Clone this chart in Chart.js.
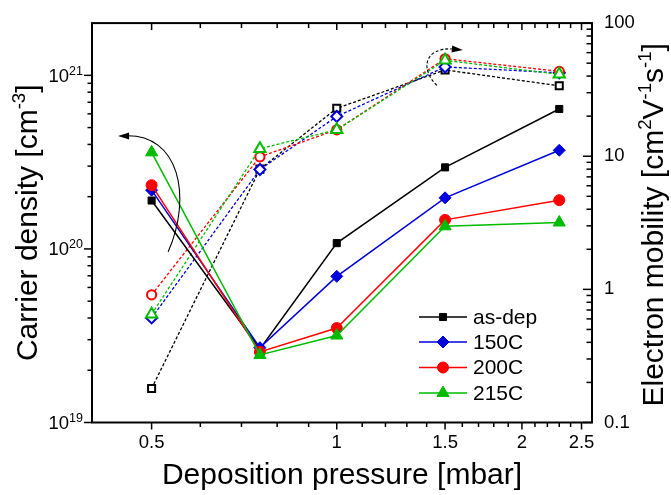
<!DOCTYPE html>
<html>
<head>
<meta charset="utf-8">
<script src="https://cdn.jsdelivr.net/npm/chart.js@4.4.1/dist/chart.umd.min.js"></script>
<style>
html,body{margin:0;padding:0;background:#fff;}
#wrap{width:671px;height:495px;}
</style>
</head>
<body>
<div id="wrap"><canvas id="c" width="671" height="495"></canvas></div>
<script>
// ---- data ----
const pressure = [0.5, 0.75, 1.0, 1.5, 2.3];
const carrierAsDep = [1.9e20, 2.65e19, 1.08e20, 2.95e20, 6.4e20];
const carrier150C  = [2.18e20, 2.7e19, 6.95e19, 1.97e20, 3.7e20];
const carrier200C  = [2.33e20, 2.55e19, 3.5e19, 1.47e20, 1.91e20];
const carrier215C  = [3.6e20, 2.45e19, 3.17e19, 1.35e20, 1.42e20];
const mobilityAsDep = [0.18, 8.0, 22.9, 44.5, 33.8];
const mobility150C  = [0.61, 7.95, 19.9, 46.9, 42.3];
const mobility200C  = [0.91, 9.9, 15.8, 54, 43.4];
const mobility215C  = [0.65, 11.4, 15.8, 52.5, 41.2];
const seriesNames = ['as-dep', '150C', '200C', '215C'];

// ---- ticks ----
const xLabelTicks = [0.5, 1, 1.5, 2, 2.5];
const xAllTicks = [0.5,0.6,0.7,0.8,0.9,1.0,1.1,1.2,1.3,1.4,1.5,1.6,1.7,1.8,1.9,2.0,2.1,2.2,2.3,2.4,2.5];
const leftLabelTicks = [1e19, 1e20, 1e21];
const leftTickBase = ['10', '10', '10'];
const leftTickExp = ['19', '20', '21'];
const leftMinorTicks = [2e19,3e19,4e19,5e19,6e19,7e19,8e19,9e19,2e20,3e20,4e20,5e20,6e20,7e20,8e20,9e20];
const rightLabelTicks = [0.1, 1, 10, 100];
const rightMinorTicks = [0.2,0.3,0.4,0.5,0.6,0.7,0.8,0.9,2,3,4,5,6,7,8,9,20,30,40,50,60,70,80,90];

const FONT = '"Liberation Sans", Arial, sans-serif';
const TICK_SIZE = 18.5;
const TITLE_SIZE = 30;
const colors = ['#000000', '#0000dd', '#ff0000', '#00bb00'];
const styles = ['rect', 'rectRot', 'circle', 'triangle'];
const filledR = [5, 6, 5.5, 7];
const openR = [5, 5.5, 4.6, 6.5];

function mk(arr){ return pressure.map((x,i)=>({x:x, y:arr[i]})); }

const carrierSets = [carrierAsDep, carrier150C, carrier200C, carrier215C];
const mobilitySets = [mobilityAsDep, mobility150C, mobility200C, mobility215C];

const datasets = [];
mobilitySets.forEach((arr,i)=>{
  datasets.push({
    label: seriesNames[i] + ' mobility',
    data: mk(arr), yAxisID:'y2',
    borderColor: colors[i], borderWidth: 1.3, borderDash:[3,2],
    pointStyle: styles[i], pointRadius: openR[i], pointBorderWidth: 2,
    pointBorderColor: colors[i], pointBackgroundColor: '#ffffff',
    order: 8 - i, tension: 0
  });
});
carrierSets.forEach((arr,i)=>{
  datasets.push({
    label: seriesNames[i],
    data: mk(arr), yAxisID:'y',
    borderColor: colors[i], borderWidth: 1.5,
    pointStyle: styles[i], pointRadius: filledR[i], pointBorderWidth: 1,
    pointBorderColor: colors[i], pointBackgroundColor: colors[i],
    order: 4 - i, tension: 0
  });
});

function drawRich(ctx, parts, x, y, rot, size){
  ctx.save();
  ctx.translate(x, y); ctx.rotate(rot);
  ctx.textBaseline = 'alphabetic'; ctx.textAlign = 'left'; ctx.fillStyle = '#000';
  let total = 0;
  parts.forEach(p=>{ ctx.font = (p.sup ? size*0.62 : size) + 'px ' + FONT; p.w = ctx.measureText(p.t).width; total += p.w; });
  let cx = -total/2;
  parts.forEach(p=>{ ctx.font = (p.sup ? size*0.62 : size) + 'px ' + FONT; ctx.fillText(p.t, cx, p.sup ? -size*0.4 : 0); cx += p.w; });
  ctx.restore();
}

// annotation arrows in data coordinates (x: mbar, y: carrier density)
const solidArrow = {start:[0.532,9.63e19], c1:[0.582,1.98e20], c2:[0.556,4.66e20], end:[0.451,4.48e20], tip:[0.441,4.48e20]};
const dashedArrow = {start:[1.455,8.75e20], c1:[1.364,1.09e21], c2:[1.39,1.44e21], end:[1.538,1.42e21], tip:[1.603,1.40e21]};

const decor = {
  id: 'decor',
  afterDatasetsDraw(chart){
    const ctx = chart.ctx, sx = chart.scales.x, sy = chart.scales.y;
    const P = p => [sx.getPixelForValue(p[0]), sy.getPixelForValue(p[1])];
    function arrow(a, dashed){
      const s=P(a.start), c1=P(a.c1), c2=P(a.c2), e=P(a.end), t=P(a.tip);
      ctx.save();
      ctx.strokeStyle = '#000'; ctx.lineWidth = 1.1;
      ctx.setLineDash(dashed ? [3,2] : []);
      ctx.beginPath(); ctx.moveTo(s[0], s[1]); ctx.bezierCurveTo(c1[0],c1[1],c2[0],c2[1],e[0],e[1]); ctx.stroke();
      ctx.setLineDash([]);
      const ang = Math.atan2(t[1]-e[1], t[0]-e[0]);
      const L = 11, W = 3.5;
      ctx.fillStyle = '#000';
      ctx.beginPath();
      ctx.moveTo(t[0], t[1]);
      ctx.lineTo(t[0] - L*Math.cos(ang) + W*Math.sin(ang), t[1] - L*Math.sin(ang) - W*Math.cos(ang));
      ctx.lineTo(t[0] - L*Math.cos(ang) - W*Math.sin(ang), t[1] - L*Math.sin(ang) + W*Math.cos(ang));
      ctx.closePath(); ctx.fill();
      ctx.restore();
    }
    arrow(solidArrow, false);
    arrow(dashedArrow, true);
  },
  afterDraw(chart){
    const ctx = chart.ctx, a = chart.chartArea, s = chart.scales;
    ctx.save();
    ctx.strokeStyle = '#000';
    ctx.lineWidth = 1.5;
    function ln(x1,y1,x2,y2){ ctx.beginPath(); ctx.moveTo(x1,y1); ctx.lineTo(x2,y2); ctx.stroke(); }
    xAllTicks.forEach(v=>{
      const px = s.x.getPixelForValue(v);
      const major = xLabelTicks.indexOf(v) >= 0;
      ln(px, a.bottom, px, a.bottom + (major ? 7 : 4.5));
      ln(px, a.top, px, a.top + (major ? 7 : 5));
    });
    leftLabelTicks.forEach(v=>{ const py = s.y.getPixelForValue(v); ln(a.left - 8, py, a.left, py); });
    leftMinorTicks.forEach(v=>{ const py = s.y.getPixelForValue(v); ln(a.left - 4.5, py, a.left, py); });
    rightLabelTicks.forEach(v=>{ const py = s.y2.getPixelForValue(v); ln(a.right - 9, py, a.right, py); });
    rightMinorTicks.forEach(v=>{ const py = s.y2.getPixelForValue(v); ln(a.right - 5.5, py, a.right, py); });
    ctx.lineWidth = 2;
    ctx.strokeRect(a.left, a.top, a.right - a.left, a.bottom - a.top);

    // left tick labels with superscript exponents
    ctx.fillStyle = '#000'; ctx.textBaseline = 'alphabetic'; ctx.textAlign = 'left';
    leftLabelTicks.forEach((v,i)=>{
      const py = s.y.getPixelForValue(v);
      ctx.font = '12.5px ' + FONT; const w2 = ctx.measureText(leftTickExp[i]).width;
      ctx.font = TICK_SIZE + 'px ' + FONT; const w1 = ctx.measureText(leftTickBase[i]).width;
      const xr = a.left - 9;
      ctx.fillText(leftTickBase[i], xr - w2 - w1, py + 6.5);
      ctx.font = '12.5px ' + FONT;
      ctx.fillText(leftTickExp[i], xr - w2, py - 0.5);
    });
    ctx.restore();

    // legend
    const lx1 = 419, lx2 = 467, lm = 443, tx = 473;
    const rows = [317, 342, 367.5, 393];
    for (let i = 0; i < 4; i++){
      const ds = chart.data.datasets[4 + i];
      const y = rows[i];
      ctx.save();
      ctx.strokeStyle = ds.borderColor; ctx.lineWidth = 1.5;
      ctx.beginPath(); ctx.moveTo(lx1, y); ctx.lineTo(lx2, y); ctx.stroke();
      ctx.fillStyle = ds.pointBackgroundColor; ctx.strokeStyle = ds.pointBorderColor; ctx.lineWidth = 1;
      Chart.helpers.drawPoint(ctx, {pointStyle: ds.pointStyle, radius: ds.pointRadius, borderWidth: 1, rotation: 0}, lm, y);
      ctx.fillStyle = '#000'; ctx.font = '21px ' + FONT; ctx.textBaseline = 'middle'; ctx.textAlign = 'left';
      ctx.fillText(ds.label, tx, y + 1);
      ctx.restore();
    }

    // axis titles
    drawRich(ctx, [{t:'Carrier density [cm'},{t:'-3',sup:true},{t:']'}], 37, (a.top + a.bottom)/2, -Math.PI/2, TITLE_SIZE);
    drawRich(ctx, [{t:'Electron mobility [cm'},{t:'2',sup:true},{t:'V'},{t:'-1',sup:true},{t:'s'},{t:'-1',sup:true},{t:']'}], 663, (a.top + a.bottom)/2 + 2, -Math.PI/2, TITLE_SIZE);
    drawRich(ctx, [{t:'Deposition pressure [mbar]'}], (a.left + a.right)/2, 484, 0, TITLE_SIZE);
  }
};

new Chart(document.getElementById('c'), {
  type: 'line',
  data: { datasets: datasets },
  options: {
    responsive: false, animation: false, devicePixelRatio: 1,
    layout: { padding: { top: 19, left: 0, right: 0, bottom: 0 } },
    plugins: { legend: { display: false }, tooltip: { enabled: false }, title: { display: false } },
    scales: {
      x: {
        type: 'logarithmic', position: 'bottom', min: 0.4, max: 2.6,
        grid: { display: false, drawTicks: false }, border: { display: false },
        afterBuildTicks: sc => { sc.ticks = xLabelTicks.map(v=>({value:v})); },
        afterFit: sc => { sc.height = 72.5; },
        ticks: { autoSkip: false, maxRotation: 0, padding: 9, color: '#000', font: { family: FONT, size: TICK_SIZE },
          callback: v => String(v) }
      },
      y: {
        type: 'logarithmic', position: 'left', min: 1e19, max: 2e21,
        grid: { display: false, drawTicks: false }, border: { display: false },
        afterBuildTicks: sc => { sc.ticks = leftLabelTicks.map(v=>({value:v})); },
        afterFit: sc => { sc.width = 92; },
        ticks: { display: false }
      },
      y2: {
        type: 'logarithmic', position: 'right', min: 0.1, max: 100,
        grid: { display: false, drawTicks: false }, border: { display: false },
        afterBuildTicks: sc => { sc.ticks = rightLabelTicks.map(v=>({value:v})); },
        afterFit: sc => { sc.width = 79; },
        ticks: { autoSkip: false, padding: 12, color: '#000', font: { family: FONT, size: TICK_SIZE },
          callback: v => String(v) }
      }
    }
  },
  plugins: [decor]
});
</script>
</body>
</html>
